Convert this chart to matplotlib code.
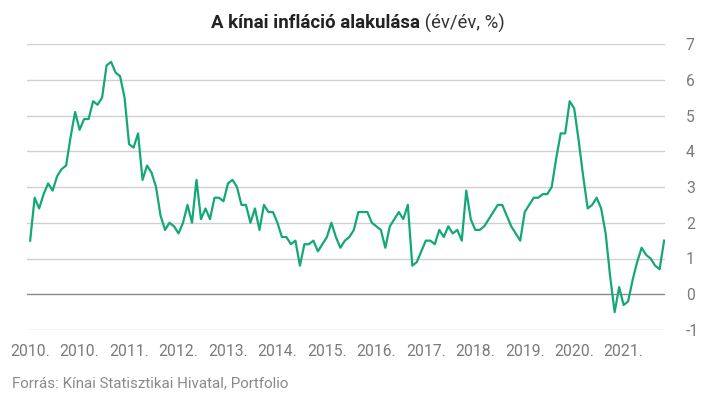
import matplotlib
matplotlib.use("Agg")
import matplotlib.pyplot as plt

plt.rcParams['font.family'] = ['Roboto', 'DejaVu Sans']

# Monthly CPI (y/y, %) from Jan 2010 to Oct 2021
cpi_2010 = [1.5, 2.7, 2.4, 2.8, 3.1, 2.9, 3.3, 3.5, 3.6, 4.4, 5.1, 4.6]
cpi_2011 = [4.9, 4.9, 5.4, 5.3, 5.5, 6.4, 6.5, 6.2, 6.1, 5.5, 4.2, 4.1]
cpi_2012 = [4.5, 3.2, 3.6, 3.4, 3.0, 2.2, 1.8, 2.0, 1.9, 1.7, 2.0, 2.5]
cpi_2013 = [2.0, 3.2, 2.1, 2.4, 2.1, 2.7, 2.7, 2.6, 3.1, 3.2, 3.0, 2.5]
cpi_2014 = [2.5, 2.0, 2.4, 1.8, 2.5, 2.3, 2.3, 2.0, 1.6, 1.6, 1.4, 1.5]
cpi_2015 = [0.8, 1.4, 1.4, 1.5, 1.2, 1.4, 1.6, 2.0, 1.6, 1.3, 1.5, 1.6]
cpi_2016 = [1.8, 2.3, 2.3, 2.3, 2.0, 1.9, 1.8, 1.3, 1.9, 2.1, 2.3, 2.1]
cpi_2017 = [2.5, 0.8, 0.9, 1.2, 1.5, 1.5, 1.4, 1.8, 1.6, 1.9, 1.7, 1.8]
cpi_2018 = [1.5, 2.9, 2.1, 1.8, 1.8, 1.9, 2.1, 2.3, 2.5, 2.5, 2.2, 1.9]
cpi_2019 = [1.7, 1.5, 2.3, 2.5, 2.7, 2.7, 2.8, 2.8, 3.0, 3.8, 4.5, 4.5]
cpi_2020 = [5.4, 5.2, 4.3, 3.3, 2.4, 2.5, 2.7, 2.4, 1.7, 0.5, -0.5, 0.2]
cpi_2021 = [-0.3, -0.2, 0.4, 0.9, 1.3, 1.1, 1.0, 0.8, 0.7, 1.5]

years = list(range(2010, 2022))
series = [cpi_2010, cpi_2011, cpi_2012, cpi_2013, cpi_2014, cpi_2015,
          cpi_2016, cpi_2017, cpi_2018, cpi_2019, cpi_2020, cpi_2021]

values = []
month_years = []
for y, s in zip(years, series):
    values.extend(s)
    month_years.extend([y] * len(s))

label_step = 11
tick_pos = list(range(0, len(values), label_step))
tick_labels = [f"{month_years[i]}." for i in tick_pos]
y_ticks = list(range(-1, 8))

W, H = 718, 396
fig = plt.figure(figsize=(W / 100, H / 100), dpi=100)
ax = fig.add_axes([27 / W, 1 - 330 / H, (665 - 27) / W, (330 - 44) / H])

x = list(range(len(values)))
ax.plot(x, values, color='#14a77a', lw=1.6, zorder=3, solid_joinstyle='round')

ax.set_xlim(-0.7, len(values) - 1 + 0.2)
ax.set_ylim(-1, 7)
for v in y_ticks:
    if v == 0:
        ax.axhline(v, color='#8a8a8a', lw=1.0, zorder=2)
    else:
        ax.axhline(v, color='#d0d0d0', lw=1.0, zorder=1)

for sp in ax.spines.values():
    sp.set_visible(False)

ax.set_xticks(tick_pos)
ax.set_xticklabels(tick_labels)
ax.set_yticks(y_ticks)
ax.set_yticklabels([str(v) for v in y_ticks])
ax.yaxis.tick_right()
ax.tick_params(axis='both', length=0, labelsize=11.3, labelcolor='#7a7a7a')
ax.tick_params(axis='x', pad=10)
ax.tick_params(axis='y', pad=15)
for lbl in ax.get_yticklabels():
    lbl.set_horizontalalignment('left')

# Title: bold part + normal part, centered
fig.canvas.draw()
r = fig.canvas.get_renderer()
t1 = fig.text(0, 1 - 23 / H, "A kínai infláció alakulása", fontsize=13.4, fontweight='bold',
              color='#222222', ha='left', va='center')
t2 = fig.text(0, 1 - 23 / H, " (év/év, %)", fontsize=13.4, color='#333333',
              ha='left', va='center')
w1 = t1.get_window_extent(r).width
w2 = t2.get_window_extent(r).width
cx = 358
x0 = cx - (w1 + w2) / 2
t1.set_x(x0 / W)
t2.set_x((x0 + w1) / W)

fig.text(12 / W, 1 - 383 / H, "Forrás: Kínai Statisztikai Hivatal, Portfolio",
         fontsize=10.9, color='#8a8a8a', ha='left', va='center')

fig.savefig("out.png", dpi=100)
